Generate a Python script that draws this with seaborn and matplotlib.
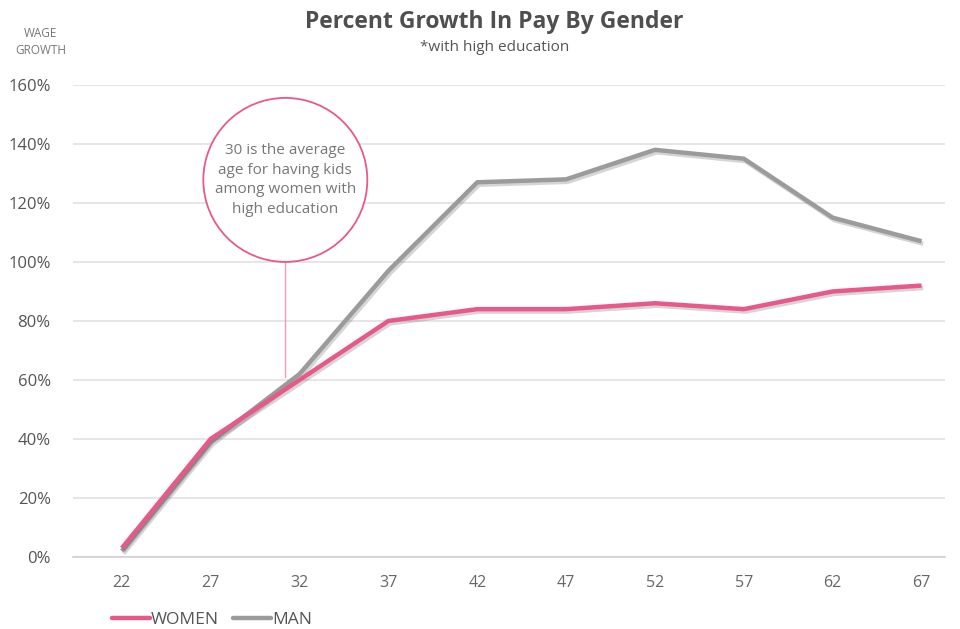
import numpy as np
import pandas as pd
import seaborn as sns
import matplotlib.pyplot as plt
import matplotlib.patheffects as pe
import matplotlib.transforms as mtransforms
from matplotlib.patches import Circle

# data
ages = [22, 27, 32, 37, 42, 47, 52, 57, 62, 67]
women = [0.03, 0.40, 0.60, 0.80, 0.84, 0.84, 0.86, 0.84, 0.90, 0.92]
man = [0.02, 0.39, 0.62, 0.97, 1.27, 1.28, 1.38, 1.35, 1.15, 1.07]
series = ["WOMEN", "MAN"]
colors = {"WOMEN": "#e8588b", "MAN": "#9b9b9b"}
yticks = [0, 0.2, 0.4, 0.6, 0.8, 1.0, 1.2, 1.4, 1.6]

note_age = 31.2
note_y = 1.278
note_text = "30 is the average\nage for having kids\namong women with\nhigh education"

df = pd.DataFrame({
    "age": ages * 2,
    "growth": women + man,
    "gender": ["WOMEN"] * len(ages) + ["MAN"] * len(ages),
})

sns.set_theme(style="white")
plt.rcParams["font.family"] = ["Open Sans", "DejaVu Sans"]
narrow = ["Liberation Sans Narrow", "Open Sans", "DejaVu Sans"]

fig = plt.figure(figsize=(9.6, 6.29), dpi=100)
ax = fig.add_axes([0.076, 0.1145, 0.908, 0.7505])

sns.lineplot(data=df, x="age", y="growth", hue="gender", hue_order=["MAN", "WOMEN"],
             palette=colors, ax=ax, legend=False, linewidth=3.2)
for line in ax.lines:
    line.set_path_effects([pe.SimpleLineShadow(offset=(1.2, -1.8), alpha=0.22, shadow_color="#444"),
                           pe.Normal()])
    line.set_solid_joinstyle("round")
    line.set_solid_capstyle("butt")

ax.set_xlim(19.25, 68.3)
ax.set_ylim(0, 1.6)
ax.set_yticks(yticks)
ax.set_yticklabels([f"{int(round(v * 100))}%" for v in yticks], fontsize=12, color="#555555")
ax.set_xticks(ages)
ax.set_xticklabels([str(a) for a in ages], fontsize=11.5, color="#666666", family=narrow)
ax.tick_params(axis="x", length=0, pad=13)
ax.tick_params(axis="y", length=0, pad=16)
ax.grid(axis="y", color="#e2e2e2", linewidth=1.2)
ax.set_axisbelow(True)
for s in ["top", "right", "left"]:
    ax.spines[s].set_visible(False)
ax.spines["bottom"].set_color("#d0d0d0")
ax.spines["bottom"].set_linewidth(1.2)
ax.set_xlabel("")
ax.set_ylabel("")

# annotation circle with connector line
trans = fig.dpi_scale_trans + mtransforms.ScaledTranslation(note_age, note_y, ax.transData)
ax.add_patch(Circle((0, 0), 0.82, transform=trans, facecolor="white",
                    edgecolor="#e8588b", linewidth=1.3, zorder=5, clip_on=False))
ax.plot([note_age, note_age], [0.61, note_y - 0.278], color="#f09ab8", linewidth=1.0, zorder=1)
ax.text(note_age, note_y, note_text, ha="center", va="center", fontsize=11,
        color="#777777", linespacing=1.4, zorder=6)

fig.text(0.515, 0.965, "Percent Growth In Pay By Gender", ha="center", va="center",
         fontsize=16.5, fontweight="bold", color="#4f4f4f")
fig.text(0.515, 0.924, "*with high education", ha="center", va="center",
         fontsize=11, color="#555555")
fig.text(0.042, 0.933, "WAGE\nGROWTH", ha="center", va="center", fontsize=8.5,
         color="#777777", linespacing=1.4)

handles = [plt.Line2D([], [], color=colors[s], linewidth=3.2) for s in series]
fig.legend(handles, series, loc="lower left", bbox_to_anchor=(0.1, -0.024), ncol=2,
           frameon=False, handlelength=2.2, handletextpad=0.05, columnspacing=0.8,
           prop={"size": 12.5, "family": narrow}, labelcolor="#555555")

fig.savefig("out.png", dpi=100)
